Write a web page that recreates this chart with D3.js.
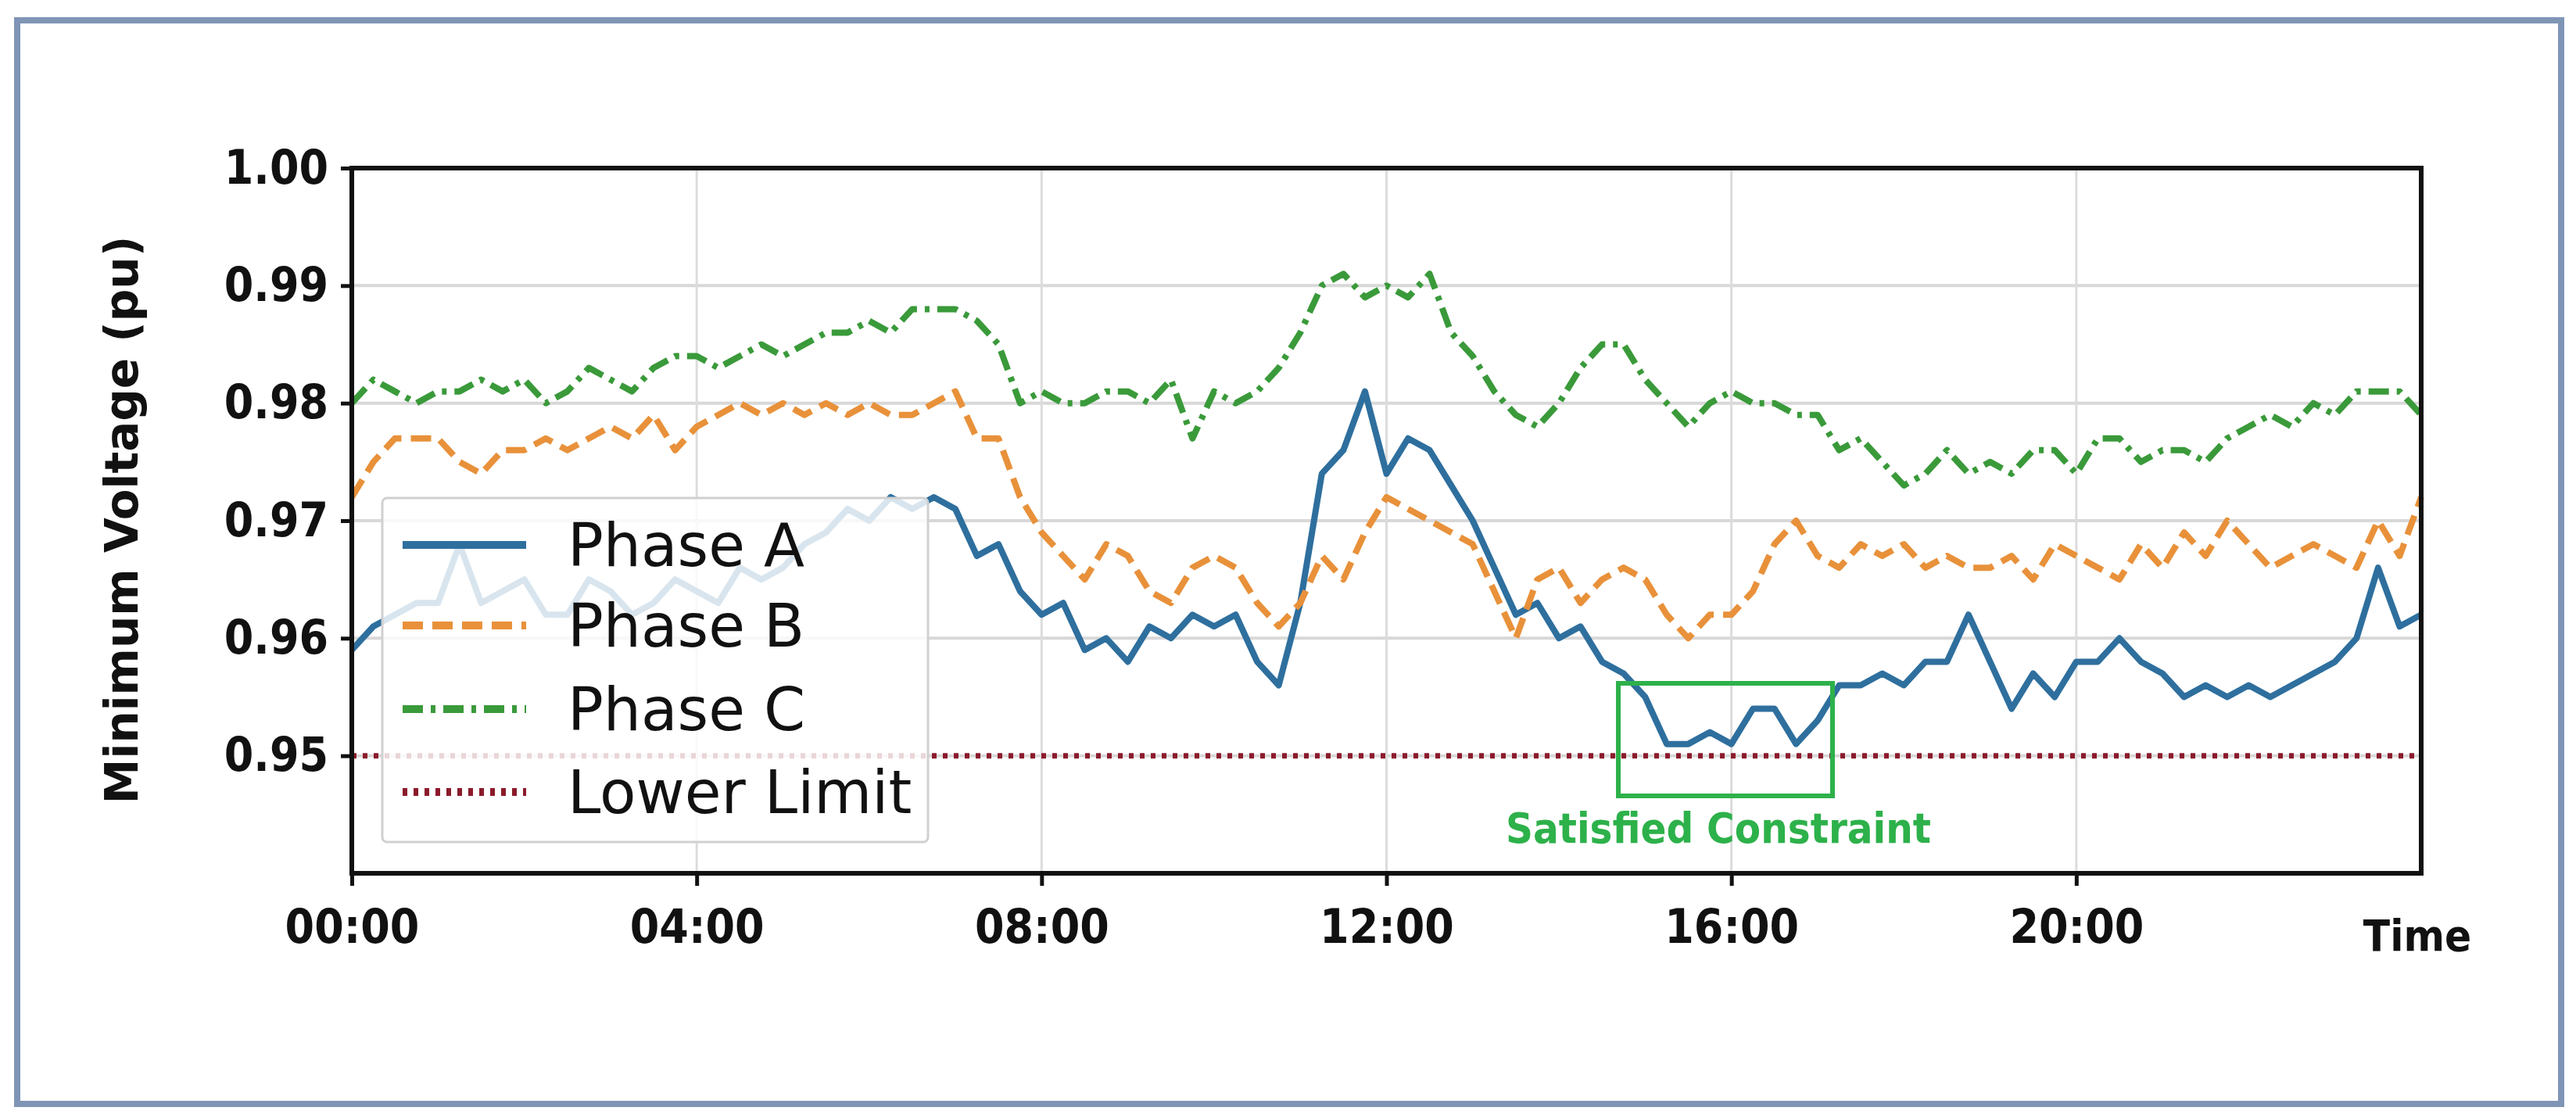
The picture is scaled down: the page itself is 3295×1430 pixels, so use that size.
<!DOCTYPE html>
<html>
<head>
<meta charset="utf-8">
<script src="https://cdn.jsdelivr.net/npm/d3@7"></script>
<style>
  body { margin: 0; background: #fff; }
  text { font-family: "DejaVu Sans", sans-serif; font-stretch: condensed; font-weight: bold; }
</style>
</head>
<body>
<script>
// hours, every 15 min
var hours = d3.range(0, 24.01, 0.25);

var phaseA = [0.959,0.961,0.962,0.963,0.963,0.968,0.963,0.964,0.965,0.962,0.962,0.965,0.964,0.962,0.963,0.965,
  0.964,0.963,0.966,0.965,0.966,0.968,0.969,0.971,0.970,0.972,0.971,0.972,0.971,0.967,0.968,0.964,
  0.962,0.963,0.959,0.960,0.958,0.961,0.960,0.962,0.961,0.962,0.958,0.956,0.963,0.974,0.976,0.981,
  0.974,0.977,0.976,0.973,0.970,0.966,0.962,0.963,0.960,0.961,0.958,0.957,0.955,0.951,0.951,0.952,
  0.951,0.954,0.954,0.951,0.953,0.956,0.956,0.957,0.956,0.958,0.958,0.962,0.958,0.954,0.957,0.955,
  0.958,0.958,0.960,0.958,0.957,0.955,0.956,0.955,0.956,0.955,0.956,0.957,0.958,0.960,0.966,0.961,0.962];

var phaseB = [0.972,0.975,0.977,0.977,0.977,0.975,0.974,0.976,0.976,0.977,0.976,0.977,0.978,0.977,0.979,0.976,
  0.978,0.979,0.980,0.979,0.980,0.979,0.980,0.979,0.980,0.979,0.979,0.980,0.981,0.977,0.977,0.972,
  0.969,0.967,0.965,0.968,0.967,0.964,0.963,0.966,0.967,0.966,0.963,0.961,0.963,0.967,0.965,0.969,
  0.972,0.971,0.970,0.969,0.968,0.964,0.960,0.965,0.966,0.963,0.965,0.966,0.965,0.962,0.960,0.962,
  0.962,0.964,0.968,0.970,0.967,0.966,0.968,0.967,0.968,0.966,0.967,0.966,0.966,0.967,0.965,0.968,
  0.967,0.966,0.965,0.968,0.966,0.969,0.967,0.970,0.968,0.966,0.967,0.968,0.967,0.966,0.970,0.967,0.972];

var phaseC = [0.980,0.982,0.981,0.980,0.981,0.981,0.982,0.981,0.982,0.980,0.981,0.983,0.982,0.981,0.983,0.984,
  0.984,0.983,0.984,0.985,0.984,0.985,0.986,0.986,0.987,0.986,0.988,0.988,0.988,0.987,0.985,0.980,
  0.981,0.980,0.980,0.981,0.981,0.980,0.982,0.977,0.981,0.980,0.981,0.983,0.986,0.990,0.991,0.989,
  0.990,0.989,0.991,0.986,0.984,0.981,0.979,0.978,0.980,0.983,0.985,0.985,0.982,0.980,0.978,0.980,
  0.981,0.980,0.980,0.979,0.979,0.976,0.977,0.975,0.973,0.974,0.976,0.974,0.975,0.974,0.976,0.976,
  0.974,0.977,0.977,0.975,0.976,0.976,0.975,0.977,0.978,0.979,0.978,0.980,0.979,0.981,0.981,0.981,0.979];

var lowerLimit = 0.95;
var yTicks = [0.95, 0.96, 0.97, 0.98, 0.99, 1.00];
var xTicks = [0, 4, 8, 12, 16, 20];
var xTickLabels = ["00:00", "04:00", "08:00", "12:00", "16:00", "20:00"];
var seriesNames = ["Phase A", "Phase B", "Phase C", "Lower Limit"];
var seriesColors = ["#2e6f9e", "#e8913a", "#3a9a3a", "#8b1a2b"];
var seriesDash = [null, "26,12", "26,10,6,10", "6,8"];

var W = 3295, H = 1430;
var svg = d3.select("body").append("svg").attr("width", W).attr("height", H);

// outer frame
svg.append("rect").attr("x", 22).attr("y", 26).attr("width", 3254).attr("height", 1386)
  .attr("fill", "none").attr("stroke", "#7f95b5").attr("stroke-width", 8);

var x = d3.scaleLinear().domain([0, 24]).range([450, 3097]);
var y = d3.scaleLinear().domain([0.94, 1.00]).range([1117, 215]);

// grid
svg.append("g").selectAll("line").data(yTicks).enter().append("line")
  .attr("x1", x(0)).attr("x2", x(24)).attr("y1", d => y(d)).attr("y2", d => y(d))
  .attr("stroke", "#d8d8d8").attr("stroke-width", 4);
svg.append("g").selectAll("line").data(xTicks.slice(1)).enter().append("line")
  .attr("x1", d => x(d)).attr("x2", d => x(d)).attr("y1", y(1)).attr("y2", y(0.94))
  .attr("stroke", "#dcdcdc").attr("stroke-width", 3);

function lineFor(vals) {
  return d3.line().x((d, i) => x(hours[i])).y(d => y(d))(vals);
}
var all = [phaseA, phaseB, phaseC];
all.forEach(function (vals, k) {
  svg.append("path").attr("d", lineFor(vals)).attr("fill", "none")
    .attr("stroke", seriesColors[k]).attr("stroke-width", 8)
    .attr("stroke-linejoin", "round")
    .attr("stroke-dasharray", seriesDash[k]);
});
svg.append("line").attr("x1", x(0)).attr("x2", x(24)).attr("y1", y(lowerLimit)).attr("y2", y(lowerLimit))
  .attr("stroke", seriesColors[3]).attr("stroke-width", 7).attr("stroke-dasharray", seriesDash[3]);

// axes frame
svg.append("rect").attr("x", x(0)).attr("y", y(1)).attr("width", x(24) - x(0)).attr("height", y(0.94) - y(1))
  .attr("fill", "none").attr("stroke", "#111").attr("stroke-width", 6);

var yAxis = svg.append("g").attr("transform", "translate(" + x(0) + ",0)")
  .call(d3.axisLeft(y).tickValues(yTicks).tickFormat(d3.format(".2f")).tickSize(14).tickPadding(16));
var xAxis = svg.append("g").attr("transform", "translate(0," + y(0.94) + ")")
  .call(d3.axisBottom(x).tickValues(xTicks).tickFormat((d, i) => xTickLabels[i]).tickSize(16).tickPadding(30));
[yAxis, xAxis].forEach(function (g) {
  g.select(".domain").remove();
  g.selectAll("line").attr("stroke", "#111").attr("stroke-width", 5);
  g.selectAll("text").attr("fill", "#111").style("font-size", "60px");
});
svg.append("text").attr("x", 3092).attr("y", 1216).attr("text-anchor", "middle")
  .style("font-size", "56px").attr("fill", "#111").text("Time");

svg.append("text").attr("transform", "translate(176,665) rotate(-90)").attr("text-anchor", "middle")
  .style("font-stretch", "normal").style("font-size", "58px").attr("fill", "#111")
  .text("Minimum Voltage (pu)");

// legend
var lg = svg.append("g");
lg.append("rect").attr("x", 489).attr("y", 637).attr("width", 698).attr("height", 440).attr("rx", 6)
  .attr("fill", "rgba(255,255,255,0.82)").attr("stroke", "#d0d0d0").attr("stroke-width", 3);
var ly = [697, 800, 907, 1013];
seriesNames.forEach(function (n, k) {
  lg.append("line").attr("x1", 515).attr("x2", 673).attr("y1", ly[k]).attr("y2", ly[k])
    .attr("stroke", seriesColors[k]).attr("stroke-width", 10).attr("stroke-dasharray", seriesDash[k]);
  lg.append("text").attr("x", 726).attr("y", ly[k] + 27).style("font-stretch", "normal")
    .style("font-weight", "normal").style("font-size", "76px").attr("fill", "#111").text(n);
});

// annotation
svg.append("rect").attr("x", 2070).attr("y", 874).attr("width", 274).attr("height", 144)
  .attr("fill", "none").attr("stroke", "#2db14a").attr("stroke-width", 6);
svg.append("text").attr("x", 2198).attr("y", 1078).attr("text-anchor", "middle")
  .style("font-size", "54px").attr("fill", "#2db14a").text("Satisfied Constraint");
</script>
</body>
</html>
